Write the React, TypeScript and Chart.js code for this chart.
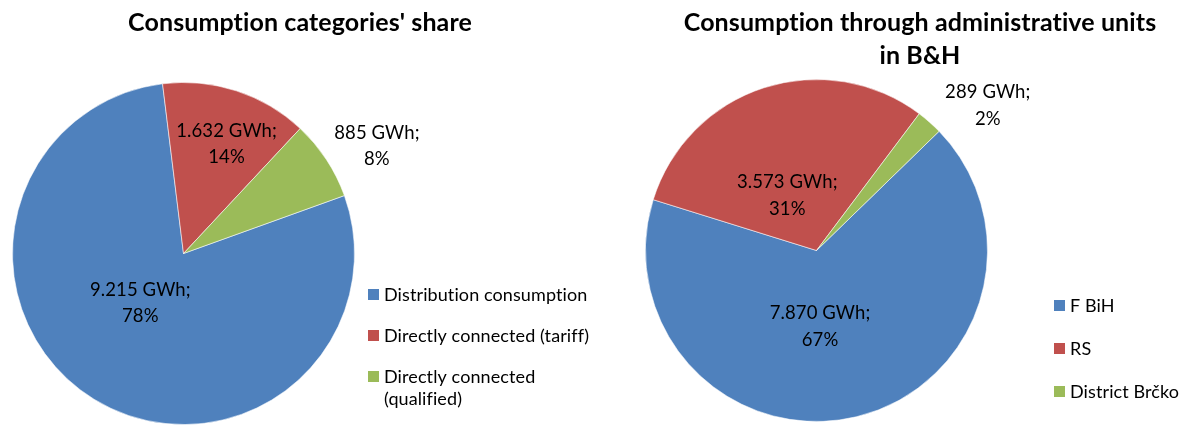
import React, { useEffect, useRef } from 'react';
import { Chart, registerables } from 'chart.js';

Chart.register(...registerables);

// ---------- data ----------
const categoriesLeft = ['Distribution consumption', 'Directly connected (tariff)', 'Directly connected (qualified)'];
const valuesLeft = [9215, 1632, 885];
const percentLeft = [78, 14, 8];

const categoriesRight = ['F BiH', 'RS', 'District Brčko'];
const valuesRight = [7870, 3573, 289];
const percentRight = [67, 31, 2];

const titleLeft = ["Consumption categories' share"];
const titleRight = ['Consumption through administrative units', 'in B&H'];

const sliceColors = ['#4F81BD', '#C0504D', '#9BBB59'];
const unit = 'GWh';

// ---------- styling / layout ----------
const FONT = 'Lato, "Open Sans", "DejaVu Sans", sans-serif';

const fmt = (v: number) => String(v).replace(/\B(?=(\d{3})+(?!\d))/g, '.');

type Cfg = {
  title: string[];
  titleX: number;
  titleY: number;
  titleLH: number;
  titleSize: number;
  values: number[];
  percents: number[];
  labelRadius: number[];
  labelShift: number[];
  labelSize: number;
  labelLH: number;
  legendSquareX: number;
  legendTextX: number;
  legendY: number;
  legendStep: number;
  legendLH: number;
  legendSize: number;
  legendMaxWidth: number;
};

function wrap(ctx: CanvasRenderingContext2D, text: string, maxW: number): string[] {
  const words = text.split(' ');
  const lines: string[] = [];
  let cur = '';
  for (const w of words) {
    const t = cur ? cur + ' ' + w : w;
    if (ctx.measureText(t).width > maxW && cur) {
      lines.push(cur);
      cur = w;
    } else cur = t;
  }
  if (cur) lines.push(cur);
  return lines;
}

function makeDecor(cfg: Cfg) {
  return {
    id: 'decor',
    afterDatasetsDraw(chart: any) {
      const ctx: any = chart.ctx;
      const meta = chart.getDatasetMeta(0);
      const ds = chart.data.datasets[0];
      ctx.save();
      ctx.fillStyle = '#000000';
      // title (small letter spacing switches off the "ti" ligature)
      ctx.textAlign = 'center';
      ctx.textBaseline = 'middle';
      ctx.font = `bold ${cfg.titleSize}px ${FONT}`;
      if ('letterSpacing' in ctx) ctx.letterSpacing = '0.1px';
      cfg.title.forEach((line, i) => ctx.fillText(line, cfg.titleX, cfg.titleY + i * cfg.titleLH));
      // data labels
      ctx.font = `${cfg.labelSize}px ${FONT}`;
      meta.data.forEach((arc: any, i: number) => {
        const p = arc.getProps(['x', 'y', 'startAngle', 'endAngle', 'outerRadius'], true);
        const mid = (p.startAngle + p.endAngle) / 2 + (cfg.labelShift[i] * Math.PI) / 180;
        const r = p.outerRadius * cfg.labelRadius[i];
        const cx = p.x + Math.cos(mid) * r;
        const cy = p.y + Math.sin(mid) * r;
        const lines = [`${fmt(cfg.values[i])} ${unit};`, `${cfg.percents[i]}%`];
        ctx.fillText(lines[0], cx, cy - cfg.labelLH / 2);
        ctx.fillText(lines[1], cx, cy + cfg.labelLH / 2);
      });
      // legend
      ctx.font = `${cfg.legendSize}px ${FONT}`;
      ctx.textAlign = 'left';
      const sq = 11;
      let y = cfg.legendY;
      (chart.data.labels as string[]).forEach((lab, i) => {
        ctx.fillStyle = ds.backgroundColor[i];
        ctx.fillRect(cfg.legendSquareX, Math.round(y - sq / 2), sq, sq);
        ctx.fillStyle = '#000000';
        const lines = wrap(ctx, lab, cfg.legendMaxWidth);
        lines.forEach((ln, k) => ctx.fillText(ln, cfg.legendTextX, y + 1 + k * cfg.legendLH));
        y += cfg.legendStep;
      });
      ctx.restore();
    },
  };
}

function PieCanvas(props: {
  left: number;
  width: number;
  labels: string[];
  values: number[];
  rotation: number;
  padding: { left: number; right: number; top: number; bottom: number };
  cfg: Cfg;
}) {
  const ref = useRef<HTMLCanvasElement | null>(null);
  useEffect(() => {
    if (!ref.current) return;
    const chart = new Chart(ref.current, {
      type: 'pie',
      data: {
        labels: props.labels,
        datasets: [
          {
            data: props.values,
            backgroundColor: sliceColors,
            borderColor: 'rgba(255,255,255,0.55)',
            borderWidth: 1,
          },
        ],
      },
      options: {
        animation: false,
        responsive: false,
        maintainAspectRatio: false,
        rotation: props.rotation,
        layout: { padding: props.padding },
        plugins: {
          legend: { display: false },
          title: { display: false },
          tooltip: { enabled: false },
        },
        events: [],
      },
      plugins: [makeDecor(props.cfg)],
    } as any);
    return () => chart.destroy();
  }, []);
  return (
    <canvas
      ref={ref}
      width={props.width}
      height={426}
      style={{ position: 'absolute', left: props.left, top: 0, width: props.width, height: 426 }}
    />
  );
}

export default function App() {
  const leftCfg: Cfg = {
    title: titleLeft,
    titleX: 300,
    titleY: 23,
    titleLH: 32,
    titleSize: 25,
    values: valuesLeft,
    percents: percentLeft,
    labelRadius: [0.385, 0.687, 1.293],
    labelShift: [9.4, 3.5, 4.4],
    labelSize: 18.5,
    labelLH: 26,
    legendSquareX: 368,
    legendTextX: 384,
    legendY: 294,
    legendStep: 41.3,
    legendLH: 22,
    legendSize: 18,
    legendMaxWidth: 210,
  };
  const rightCfg: Cfg = {
    title: titleRight,
    titleX: 320,
    titleY: 23,
    titleLH: 33,
    titleSize: 25,
    values: valuesRight,
    percents: percentRight,
    labelRadius: [0.448, 0.362, 1.314],
    labelShift: [10.8, -10.3, 8.3],
    labelSize: 18.5,
    labelLH: 27,
    legendSquareX: 454,
    legendTextX: 470,
    legendY: 305,
    legendStep: 43,
    legendLH: 22,
    legendSize: 18,
    legendMaxWidth: 120,
  };
  return (
    <div style={{ position: 'fixed', left: 0, top: 0, width: 1182, height: 426, background: '#ffffff' }}>
      <PieCanvas
        left={0}
        width={600}
        labels={categoriesLeft}
        values={valuesLeft}
        rotation={70.2}
        padding={{ left: 12, right: 245, top: 82, bottom: 1 }}
        cfg={leftCfg}
      />
      <PieCanvas
        left={600}
        width={582}
        labels={categoriesRight}
        values={valuesRight}
        rotation={45.8}
        padding={{ left: 45, right: 194, top: 79, bottom: 4 }}
        cfg={rightCfg}
      />
    </div>
  );
}
